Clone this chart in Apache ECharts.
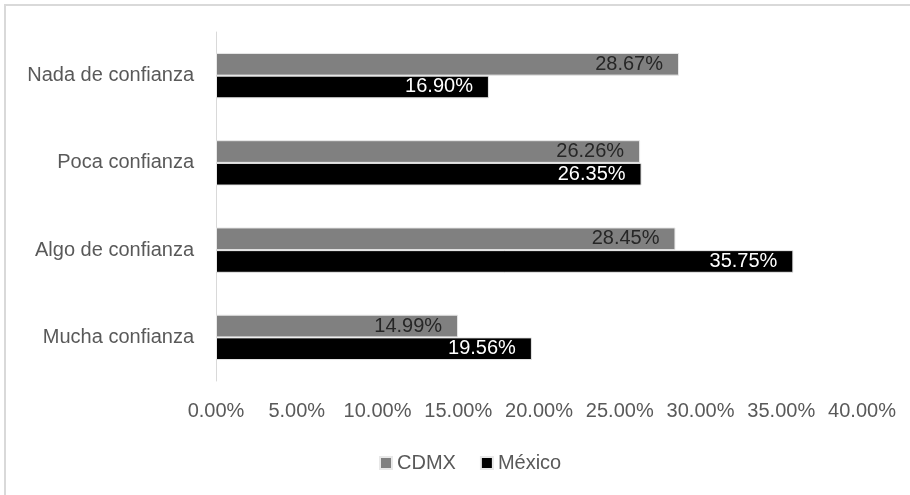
<!DOCTYPE html>
<html>
<head>
<meta charset="utf-8">
<script src="https://cdn.jsdelivr.net/npm/echarts@6/dist/echarts.min.js"></script>
<style>html,body{margin:0;padding:0;background:#fff;}#c{width:910px;height:495px;}</style>
</head>
<body>
<div id="c"></div>
<script>
var categories = ['Nada de confianza', 'Poca confianza', 'Algo de confianza', 'Mucha confianza'];
var seriesNames = ['CDMX', 'México'];
var cdmxValues = [28.67, 26.26, 28.45, 14.99];
var mexicoValues = [16.90, 26.35, 35.75, 19.56];
var xTicks = [0, 5, 10, 15, 20, 25, 30, 35, 40];

var FONT = 'Liberation Sans';
var chart = echarts.init(document.getElementById('c'), null, {renderer: 'canvas'});
chart.setOption({
  animation: false,
  backgroundColor: '#ffffff',
  textStyle: {fontFamily: FONT},
  graphic: [{
    type: 'rect', silent: true, z: -1,
    shape: {x: 5, y: 5, width: 1000, height: 700},
    style: {fill: 'none', stroke: '#d9d9d9', lineWidth: 2}
  }],
  grid: {left: 216, right: 48, top: 32, bottom: 114, containLabel: false},
  legend: {
    data: seriesNames,
    left: 374,
    top: 448,
    itemWidth: 12, itemHeight: 12, itemGap: 24,
    icon: 'rect',
    textStyle: {fontFamily: FONT, fontSize: 20, color: '#595959'}
  },
  xAxis: {
    type: 'value', min: xTicks[0], max: xTicks[xTicks.length - 1], interval: 5,
    axisLine: {show: false}, axisTick: {show: false}, splitLine: {show: false},
    axisLabel: {
      fontFamily: FONT, fontSize: 20, color: '#595959', margin: 20,
      formatter: function (v) { return v.toFixed(2) + '%'; }
    }
  },
  yAxis: {
    type: 'category', data: categories, inverse: true,
    axisLine: {show: true, lineStyle: {color: '#d9d9d9', width: 1}},
    axisTick: {show: false},
    axisLabel: {fontFamily: FONT, fontSize: 20, color: '#595959', margin: 22}
  },
  series: [{
    name: seriesNames[0], type: 'bar', data: cdmxValues,
    barGap: '0%', barCategoryGap: '48%',
    itemStyle: {color: '#808080', borderColor: '#e8e8e8', borderWidth: 1},
    label: {
      show: true, position: 'insideRight', distance: 16,
      fontFamily: FONT, fontSize: 20, color: '#262626',
      formatter: function (p) { return p.value.toFixed(2) + '%'; }
    }
  }, {
    name: seriesNames[1], type: 'bar', data: mexicoValues,
    barGap: '0%', barCategoryGap: '48%',
    itemStyle: {color: '#000000', borderColor: '#e8e8e8', borderWidth: 1},
    label: {
      show: true, position: 'insideRight', distance: 16,
      fontFamily: FONT, fontSize: 20, color: '#ffffff',
      formatter: function (p) { return p.value.toFixed(2) + '%'; }
    }
  }]
});
</script>
</body>
</html>
